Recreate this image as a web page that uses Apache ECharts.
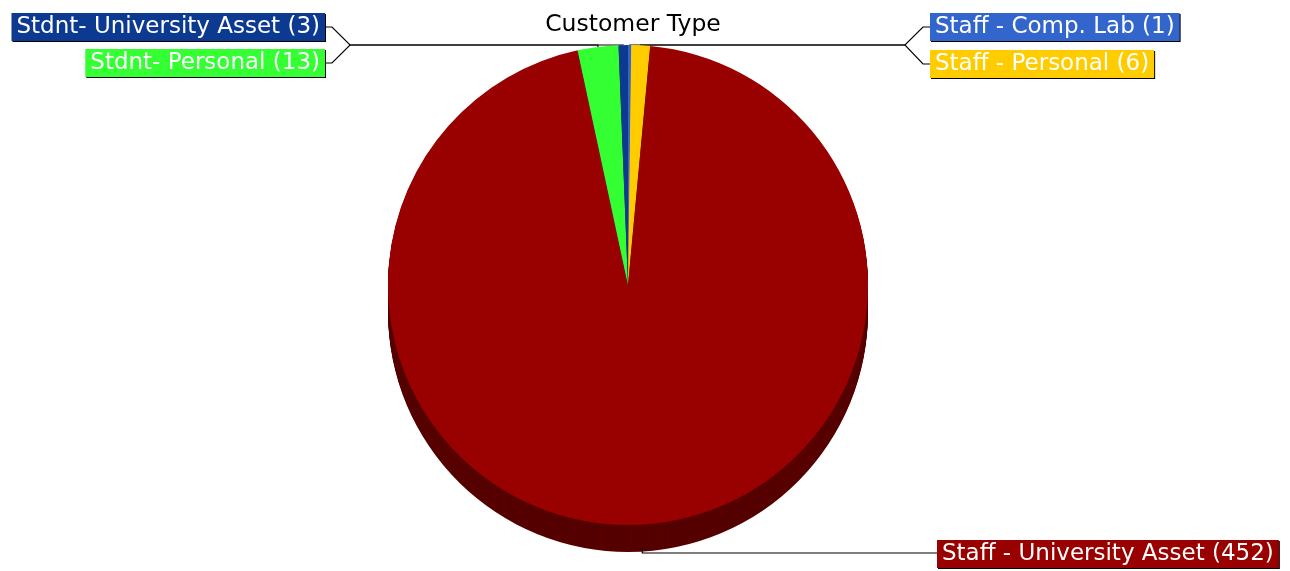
<!DOCTYPE html>
<html><head><meta charset="utf-8">
<script src="https://cdn.jsdelivr.net/npm/echarts@6/dist/echarts.min.js"></script>
<style>html,body{margin:0;padding:0;background:#fff}#c{width:1290px;height:571px}</style>
</head><body><div id="c"></div>
<script>
const categories = ['Staff - Comp. Lab', 'Staff - Personal', 'Staff - University Asset', 'Stdnt- Personal', 'Stdnt- University Asset'];
const values = [1, 6, 452, 13, 3];
const topColors = ['#3366cc', '#ffcc00', '#990000', '#33ff33', '#0c3a90'];
const sideColors = ['#1f3d7a', '#997a00', '#560000', '#1f991f', '#07224f'];

const CX = 628, CY = 285, R = 240, DEPTH = 27;
const FONT = 'DejaVu Sans, Verdana, sans-serif';
// label anchor positions and leader-line routing (layout only)
const LINE_Y = 45;
const labelPos = [
  {x: 930, y: 27, align: 'left', side: 'right'},
  {x: 930, y: 64, align: 'left', side: 'right'},
  {x: 937, y: 554, align: 'left', side: 'bottom'},
  {x: 325, y: 63, align: 'right', side: 'left'},
  {x: 325, y: 27, align: 'right', side: 'left'}
];

const series = [];
for (let k = DEPTH; k >= 1; k--) {
  series.push({
    type: 'pie', silent: true, animation: false,
    center: [CX, CY + k], radius: R, startAngle: 90, clockwise: true,
    label: {show: false}, labelLine: {show: false},
    data: values.map((v, i) => ({value: v, name: categories[i], itemStyle: {color: sideColors[i]}})),
    z: 1
  });
}
series.push({
  type: 'pie', animation: false,
  center: [CX, CY], radius: R, startAngle: 90, clockwise: true,
  avoidLabelOverlap: false,
  itemStyle: {borderWidth: 0},
  label: {
    show: true,
    formatter: p => p.name + ' (' + p.value + ')',
    color: '#fff', fontSize: 23, lineHeight: 24, fontFamily: FONT,
    padding: [2, 5, 2, 5],
    shadowColor: '#000', shadowOffsetX: 1, shadowOffsetY: 1, shadowBlur: 0
  },
  labelLine: {show: true, length: 12, length2: 20, lineStyle: {color: '#000', width: 1.2}},
  labelLayout: function (params) {
    const p = labelPos[params.dataIndex];
    const a = params.labelLinePoints ? params.labelLinePoints[0] : [CX, CY - R];
    let pts;
    if (p.side === 'left') {
      pts = [[a[0], a[1]], [a[0], LINE_Y], [350, LINE_Y], [332, p.y], [p.x, p.y]];
    } else if (p.side === 'right') {
      pts = [[a[0], a[1]], [a[0], LINE_Y], [905, LINE_Y], [923, p.y], [p.x, p.y]];
    } else {
      pts = [[a[0], CY + R + DEPTH - 4], [a[0], p.y - 1], [p.x, p.y - 1]];
    }
    return {x: p.x, y: p.y, align: p.align, verticalAlign: 'middle', labelLinePoints: pts};
  },
  data: values.map((v, i) => ({
    value: v, name: categories[i],
    itemStyle: {color: topColors[i]},
    label: {backgroundColor: topColors[i]}
  })),
  z: 2
});

const chart = echarts.init(document.getElementById('c'));
chart.setOption({
  animation: false,
  title: {text: 'Customer Type', left: CX, textAlign: 'center', top: 8,
    textStyle: {fontSize: 23.5, fontWeight: 'normal', color: '#000', fontFamily: FONT}},
  series: series
});
</script></body></html>
